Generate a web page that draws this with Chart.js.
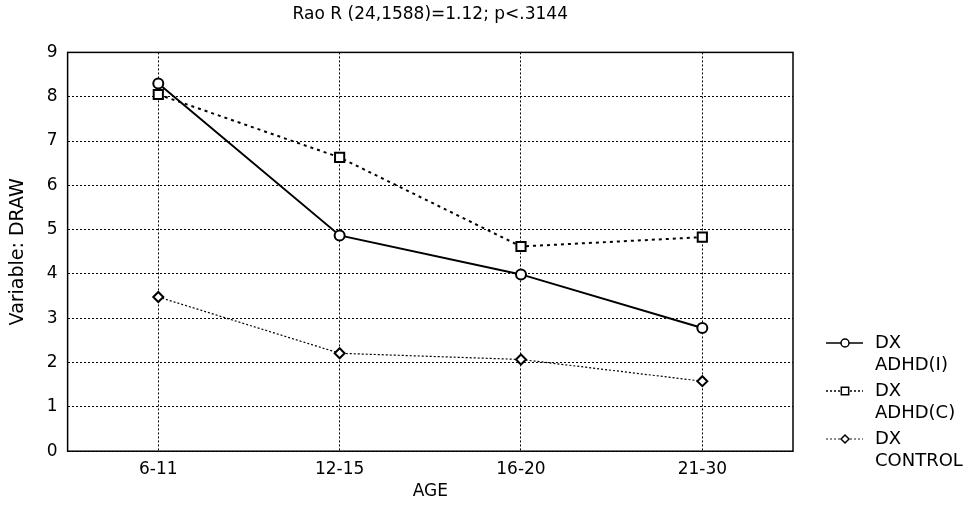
<!DOCTYPE html>
<html>
<head>
<meta charset="utf-8">
<script src="https://cdn.jsdelivr.net/npm/chart.js@4/dist/chart.umd.min.js"></script>
<style>
  html, body { margin: 0; padding: 0; background: #fff; }
  #wrap { width: 971px; height: 513px; }
</style>
</head>
<body>
<div id="wrap"><canvas id="myChart" width="971" height="513"></canvas></div>
<script>
let ageGroups = ['6-11', '12-15', '16-20', '21-30'];
let adhdI = [8.30, 4.87, 3.99, 2.78];
let adhdC = [8.05, 6.63, 4.62, 4.83];
let control = [3.48, 2.21, 2.07, 1.58];
let seriesNames = [['DX', 'ADHD(I)'], ['DX', 'ADHD(C)'], ['DX', 'CONTROL']];
let yTicks = [0, 1, 2, 3, 4, 5, 6, 7, 8, 9];

const FONT = "'DejaVu Sans', 'Liberation Sans', Arial, sans-serif";

// box round the plot and the legend on the right
const frameAndLegend = {
    id: 'frameAndLegend',
    afterDraw(chart) {
        const c = chart.ctx;
        const a = chart.chartArea;
        c.save();
        c.strokeStyle = '#000';
        c.lineWidth = 1.5;
        c.setLineDash([]);
        c.strokeRect(a.left, a.top, a.right - a.left, a.bottom - a.top);

        let y = 343;
        chart.data.datasets.forEach((ds, i) => {
            c.strokeStyle = '#000';
            c.lineWidth = ds.borderWidth * 0.75;
            c.setLineDash(ds.borderDash.length ? [2, 2] : []);
            c.beginPath();
            c.moveTo(826, y);
            c.lineTo(863, y);
            c.stroke();
            c.setLineDash([]);
            c.fillStyle = '#fff';
            c.strokeStyle = '#000';
            c.lineWidth = 1.5;
            Chart.helpers.drawPoint(c, {
                pointStyle: ds.pointStyle,
                radius: ds.pointRadius * 0.8,
                borderWidth: 1.5
            }, 845, y);
            c.fillStyle = '#000';
            c.font = '18px ' + FONT;
            c.textBaseline = 'middle';
            c.textAlign = 'left';
            c.fillText(seriesNames[i][0], 875, y);
            c.fillText(seriesNames[i][1], 875, y + 22);
            y += 48;
        });
        c.restore();
    }
};

function makeSet(label, data, style, width, dash, radius) {
    return {
        label: label,
        data: data,
        borderColor: '#000',
        backgroundColor: '#fff',
        borderWidth: width,
        borderDash: dash,
        pointStyle: style,
        pointRadius: radius,
        pointHoverRadius: radius,
        pointBorderWidth: 2,
        pointBackgroundColor: '#fff',
        pointBorderColor: '#000',
        tension: 0,
        fill: false
    };
}

let ctx = document.getElementById('myChart');
let chart = new Chart(ctx, {
    type: 'line',
    plugins: [frameAndLegend],
    data: {
        labels: ageGroups,
        datasets: [
            makeSet('DX ADHD(I)', adhdI, 'circle', 2, [], 5),
            makeSet('DX ADHD(C)', adhdC, 'rect', 2, [3, 4], 6.5),
            makeSet('DX CONTROL', control, 'rectRot', 1.2, [2, 2], 5)
        ]
    },
    options: {
        responsive: false,
        animation: false,
        layout: { padding: { top: 0, right: 178, left: 7, bottom: 11 } },
        plugins: {
            legend: { display: false },
            tooltip: { enabled: false },
            title: {
                display: true,
                fullSize: false,
                text: 'Rao R (24,1588)=1.12; p<.3144',
                color: '#000',
                font: { family: FONT, size: 17, weight: 'normal' },
                padding: { top: 4, bottom: 28 }
            }
        },
        scales: {
            x: {
                offset: true,
                grid: {
                    color: '#000',
                    lineWidth: 1,
                    drawTicks: false
                },
                border: { display: false, dash: [2, 2] },
                ticks: {
                    color: '#000',
                    padding: 8,
                    font: { family: FONT, size: 17 }
                },
                title: {
                    display: true,
                    text: 'AGE',
                    color: '#000',
                    font: { family: FONT, size: 17 },
                    padding: { top: -6, bottom: 0 }
                }
            },
            y: {
                min: 0,
                max: 9,
                afterBuildTicks: (s) => { s.ticks = yTicks.map(v => ({ value: v })); },
                grid: {
                    color: '#000',
                    lineWidth: 1,
                    drawTicks: false
                },
                border: { display: false, dash: [2, 2] },
                ticks: {
                    color: '#000',
                    padding: 10,
                    font: { family: FONT, size: 17 }
                },
                title: {
                    display: true,
                    text: 'Variable: DRAW',
                    color: '#000',
                    font: { family: FONT, size: 19 },
                    padding: { top: 0, bottom: 7 }
                }
            }
        }
    }
});
</script>
</body>
</html>
